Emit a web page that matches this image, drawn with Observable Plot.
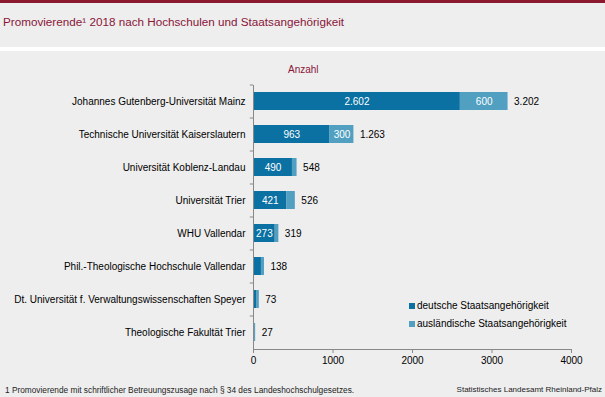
<!DOCTYPE html>
<html><head><meta charset="utf-8">
<script src="https://cdn.jsdelivr.net/npm/d3@7"></script>
<script src="https://cdn.jsdelivr.net/npm/@observablehq/plot@0.6"></script>
<style>
body{margin:0;}
#wrap{position:relative;width:605px;height:397px;background:#eeeeee;font-family:"Liberation Sans",Arial,sans-serif;overflow:hidden;}
#topbar{position:absolute;left:0;top:0;width:605px;height:3px;background:#8b1a30;}
#title{position:absolute;left:3px;top:15px;font-size:11.7px;color:#8a1538;white-space:nowrap;}
#sep{position:absolute;left:0;top:47px;width:605px;height:4px;background:#ffffff;}
#unit{position:absolute;left:288px;top:64px;font-size:10px;color:#8a1538;}
#chart{position:absolute;left:0;top:60px;}
.leg{position:absolute;left:409px;font-size:10px;color:#000;white-space:nowrap;}
.leg span{display:inline-block;width:6px;height:6px;margin-right:2px;vertical-align:0px;}
#foot{position:absolute;left:5px;top:385px;font-size:8.3px;color:#222;white-space:nowrap;}
#src{position:absolute;right:3px;top:385px;font-size:8px;color:#222;white-space:nowrap;}
</style></head>
<body>
<div id="wrap">
<div id="topbar"></div>
<div id="title">Promovierende¹ 2018 nach Hochschulen und Staatsangehörigkeit</div>
<div id="sep"></div>
<div id="unit">Anzahl</div>
<div id="chart"></div>
<div class="leg" style="top:300px"><span style="background:#0b71a2"></span>deutsche Staatsangehörigkeit</div>
<div class="leg" style="top:318px"><span style="background:#519fc1"></span>ausländische Staatsangehörigkeit</div>
<div id="foot">1 Promovierende  mit schriftlicher Betreuungszusage nach § 34 des Landeshochschulgesetzes.</div>
<div id="src">Statistisches Landesamt Rheinland-Pfalz</div>
</div>
<script>
const categories = [
  "Johannes Gutenberg-Universität Mainz",
  "Technische Universität Kaiserslautern",
  "Universität Koblenz-Landau",
  "Universität Trier",
  "WHU Vallendar",
  "Phil.-Theologische Hochschule Vallendar",
  "Dt. Universität f. Verwaltungswissenschaften Speyer",
  "Theologische Fakultät Trier"
];
const deutsche = [2602, 963, 490, 421, 273, 100, 45, 20];
const auslaendische = [600, 300, 58, 105, 46, 38, 28, 7];
const totals = [3202, 1263, 548, 526, 319, 138, 73, 27];
const groups = ["deutsche Staatsangehörigkeit", "ausländische Staatsangehörigkeit"];
const colors = ["#0b71a2", "#519fc1"];
const xTicks = [0, 1000, 2000, 3000, 4000];
const showDeutsch = [true, true, true, true, true, false, false, false];
const showAusl = [true, true, false, false, false, false, false, false];

const fmt = d3.formatLocale({decimal: ",", thousands: ".", grouping: [3], currency: ["", "€"]}).format(",");

const rows = [];
categories.forEach((c, i) => {
  rows.push({cat: c, group: groups[0], value: deutsche[i], show: showDeutsch[i]});
  rows.push({cat: c, group: groups[1], value: auslaendische[i], show: showAusl[i]});
});
const totalRows = categories.map((c, i) => ({cat: c, total: totals[i]}));

const chart = Plot.plot({
  width: 605,
  height: 310,
  marginLeft: 253,
  marginRight: 34,
  marginTop: 25,
  marginBottom: 21,
  style: {fontFamily: "Liberation Sans, Arial, sans-serif", fontSize: "10px", background: "transparent", color: "#000"},
  x: {domain: [0, 4000], axis: null},
  y: {domain: categories, paddingInner: 0.45, paddingOuter: 0.225, axis: null},
  color: {domain: groups, range: colors},
  marks: [
    Plot.barX(rows, Plot.stackX({y: "cat", x: "value", fill: "group", z: "group", order: groups})),
    Plot.text(rows, Plot.stackX({y: "cat", x: "value", z: "group", order: groups, text: d => d.show ? fmt(d.value) : null, fill: "white", fontSize: 10})),
    Plot.text(totalRows, {y: "cat", x: "total", text: d => fmt(d.total), dx: 6, textAnchor: "start", fill: "#000", fontSize: 10}),
    Plot.ruleX([0], {stroke: "#888888"}),
    Plot.ruleY(categories, {y: d => d, x1: -40, x2: 0, dy: -16.5, stroke: "#888888"}),
    Plot.frame({anchor: "bottom", stroke: "#888888"}),
    Plot.axisX({ticks: xTicks, tickFormat: d => String(d), tickSize: 4, stroke: "#888888", fill: "#000", fontSize: 10, tickPadding: 3, label: null}),
    Plot.axisY({tickSize: 0, tickPadding: 8, fill: "#000", fontSize: 10, label: null})
  ]
});
document.getElementById("chart").appendChild(chart);
</script>
</body></html>
